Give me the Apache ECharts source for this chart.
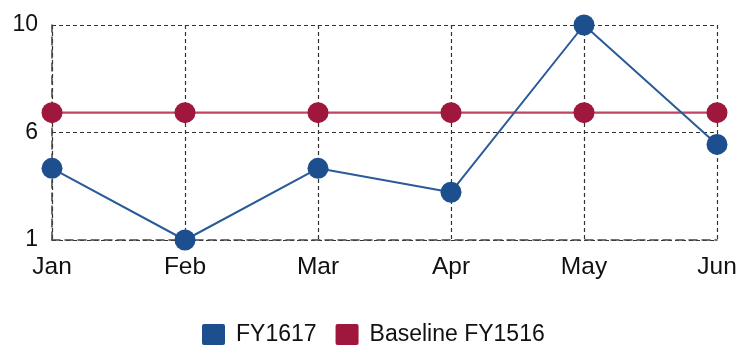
<!DOCTYPE html>
<html><head><meta charset="utf-8">
<script src="https://cdn.jsdelivr.net/npm/echarts@6/dist/echarts.min.js"></script>
<style>html,body{margin:0;padding:0;background:#fff}#c{width:755px;height:345px}</style>
</head><body><div id="c"></div>
<script>
const categories = ['Jan','Feb','Mar','Apr','May','Jun'];
const fy1617 = [4, 1, 4, 3, 10, 5];
const baseline = [6.33, 6.33, 6.33, 6.33, 6.33, 6.33];
const yTickLabels = ['1','6','10'];
const seriesNames = ['FY1617','Baseline FY1516'];

const chart = echarts.init(document.getElementById('c'), null, {renderer:'canvas'});
const font = "'Liberation Sans', Arial, sans-serif";
chart.setOption({
  animation:false,
  grid:{left:52,right:38,top:25,bottom:105,containLabel:false},
  legend:{
    data:seriesNames, top:323, left:202, padding:0,
    itemWidth:23,itemHeight:21,itemGap:19,
    icon:'path://M2,0 L21,0 Q23,0 23,2 L23,19 Q23,21 21,21 L2,21 Q0,21 0,19 L0,2 Q0,0 2,0 Z',
    textStyle:{fontFamily:font,fontSize:23,color:'#111',padding:[0,0,0,6]}
  },
  xAxis:{
    type:'category',data:categories,boundaryGap:false,
    axisLine:{show:true,lineStyle:{color:'#444',type:[8,5],width:1.5}},
    axisTick:{show:false},
    axisLabel:{fontFamily:font,fontSize:24.5,color:'#111',margin:15},
    splitLine:{show:true,lineStyle:{color:'#333',type:[4,3],width:1.2}}
  },
  yAxis:{
    type:'value',min:1,max:10,interval:4.5,
    axisLine:{show:true,lineStyle:{color:'#444',type:[8,5],width:1.5}},
    axisTick:{show:false},
    axisLabel:{fontFamily:font,fontSize:23,color:'#111',margin:14,
      formatter:(v,i)=>yTickLabels[i]},
    splitLine:{show:true,lineStyle:{color:'#333',type:[4,3],width:1.2}}
  },
  series:[
    {name:seriesNames[0],type:'line',data:fy1617,symbol:'circle',symbolSize:21,
     itemStyle:{color:'#1d4f8e'},lineStyle:{color:'#2a5a98',width:2},z:3},
    {name:seriesNames[1],type:'line',data:baseline,symbol:'circle',symbolSize:21,
     itemStyle:{color:'#a0173d'},lineStyle:{color:'#c04562',width:2.2},z:2}
  ]
});
</script></body></html>
